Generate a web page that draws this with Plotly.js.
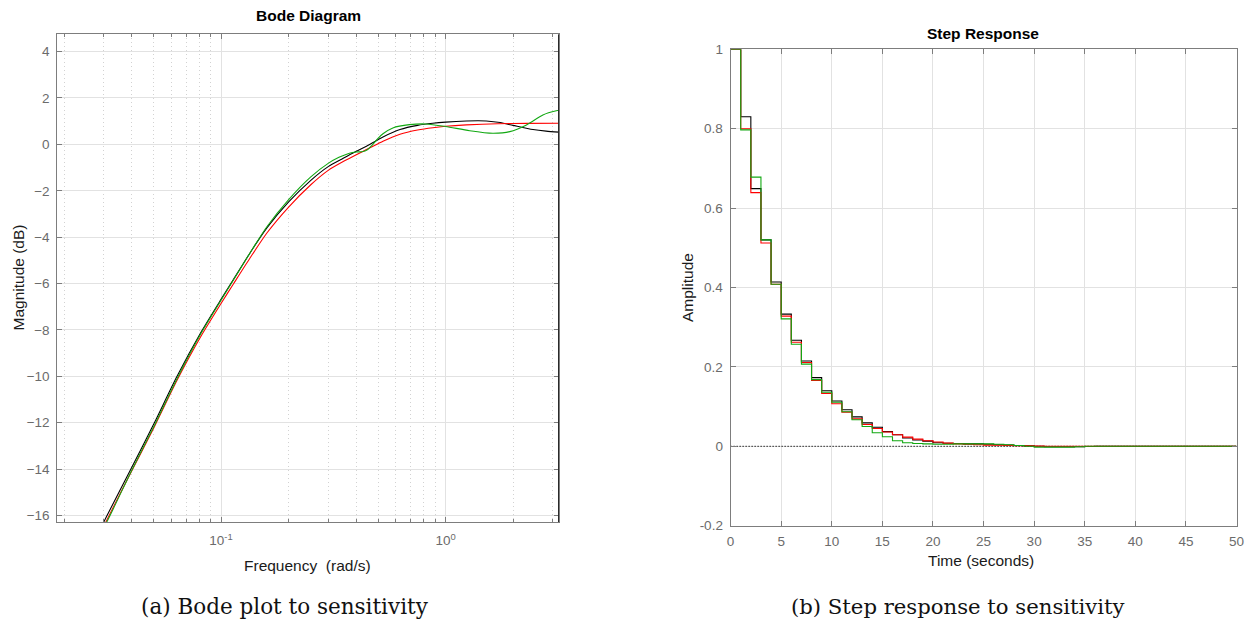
<!DOCTYPE html>
<html>
<head>
<meta charset="utf-8">
<script src="https://cdn.plot.ly/plotly-3.0.1.min.js"></script>
<style>
html,body{margin:0;padding:0;background:#fff;}
#chart{width:1249px;height:631px;}
</style>
</head>
<body>
<div id="chart"></div>
<script>
// ---------------- Bode magnitude data (frequency rad/s, magnitude dB) ----------------
const bodeBlackFreq = [0.0282,0.0310,0.0397,0.0505,0.0637,0.0820,0.100,0.1135,0.1346,0.160,0.200,0.251,0.300,0.350,0.400,0.444,0.500,0.526,0.626,0.750,0.877,1.00,1.236,1.40,1.517,1.75,1.995,2.449,2.80,3.20];
const bodeBlackMag  = [-16.83,-16.02,-14.00,-12.00,-10.00,-8.05,-6.68,-5.83,-4.68,-3.60,-2.48,-1.55,-0.96,-0.60,-0.30,-0.08,0.20,0.32,0.64,0.82,0.91,0.96,1.01,1.02,1.01,0.94,0.82,0.64,0.57,0.53];

const bodeRedFreq = [0.0282,0.0310,0.0397,0.0505,0.0637,0.0820,0.100,0.1135,0.1346,0.160,0.200,0.251,0.300,0.350,0.400,0.444,0.500,0.526,0.626,0.750,0.877,1.00,1.236,1.70,2.30,3.20];
const bodeRedMag  = [-17.00,-16.20,-14.15,-12.17,-10.17,-8.22,-6.86,-6.02,-4.90,-3.82,-2.70,-1.74,-1.12,-0.74,-0.45,-0.22,0.03,0.14,0.44,0.62,0.72,0.78,0.84,0.89,0.905,0.91];

const bodeGreenFreq = [0.0282,0.0310,0.0397,0.0505,0.0637,0.0820,0.100,0.1135,0.1346,0.160,0.200,0.251,0.300,0.335,0.373,0.400,0.430,0.450,0.470,0.500,0.526,0.582,0.690,0.820,1.00,1.28,1.62,1.93,2.29,2.71,3.11,3.20];
const bodeGreenMag  = [-16.95,-16.28,-14.12,-12.12,-10.10,-8.10,-6.72,-5.85,-4.68,-3.55,-2.38,-1.40,-0.82,-0.56,-0.38,-0.33,-0.31,-0.22,-0.04,0.26,0.46,0.71,0.85,0.88,0.77,0.59,0.48,0.55,0.84,1.27,1.45,1.47];

// ---------------- Step response data (sample time 1 s) ----------------
const stepTime = [0,1,2,3,4,5,6,7,8,9,10,11,12,13,14,15,16,17,18,19,20,21,22,23,24,25,26,27,28,29,30,31,32,33,34,35,36,37,38,39,40,41,42,43,44,45,46,47,48,49,50];
const stepBlack = [1,0.830,0.649,0.520,0.414,0.333,0.267,0.215,0.173,0.140,0.114,0.092,0.074,0.059,0.048,0.037,0.029,0.021,0.016,0.013,0.009,0.0075,0.007,0.006,0.006,0.005,0.004,0.003,0.002,0.001,0,-0.001,-0.001,-0.001,-0.001,-0.0005,0,0,0,0,0,0,0,0,0,0,0,0,0,0,0];
const stepRed   = [1,0.800,0.639,0.512,0.408,0.328,0.262,0.211,0.166,0.133,0.107,0.086,0.069,0.055,0.045,0.036,0.029,0.023,0.018,0.014,0.011,0.008,0.006,0.005,0.004,0.003,0.0025,0.002,0.0015,0.001,0.0005,0,0,0,0,0,0,0,0,0,0,0,0,0,0,0,0,0,0,0,0];
const stepGreen = [1,0.797,0.678,0.520,0.408,0.321,0.257,0.207,0.168,0.136,0.111,0.087,0.067,0.050,0.034,0.024,0.014,0.009,0.007,0.006,0.005,0.005,0.006,0.006,0.006,0.006,0.005,0.004,0.002,0,-0.002,-0.002,-0.002,-0.002,-0.001,0,0,0,0,0,0,0,0,0,0,0,0,0,0,0,0];
const zeroLineX = [0,50];
const zeroLineY = [0,0];

// ---------------- tick labels ----------------
const bodeXTickVals = [0.1, 1];
const bodeXTickText = ['10<sup>-1</sup>','10<sup>0</sup>'];
const bodeYTickVals = [-16,-14,-12,-10,-8,-6,-4,-2,0,2,4];
const stepXTickVals = [0,5,10,15,20,25,30,35,40,45,50];
const stepYTickVals = [-0.2,0,0.2,0.4,0.6,0.8,1];
const stepYTickText = ['-0.2','0','0.2','0.4','0.6','0.8','1'];

const W = 1249, H = 631;
const px = x => x / W;
const py = y => 1 - y / H;

const cBlack = '#000000', cRed = '#ff0000', cGreen = 'rgb(18,168,18)';
const tickFont = {family:'Liberation Sans, Arial, sans-serif', size:13.5, color:'#6b6b6b'};
const labelFont = {family:'Liberation Sans, Arial, sans-serif', size:15.5, color:'#1a1a1a'};
const axisCol = '#7d7d7d';
const gridCol = '#e2e2e2';

const traces = [
  {x:bodeBlackFreq, y:bodeBlackMag, xaxis:'x', yaxis:'y', mode:'lines', line:{color:cBlack,width:1.1,shape:'spline',smoothing:0.7}, hoverinfo:'skip'},
  {x:bodeRedFreq, y:bodeRedMag, xaxis:'x', yaxis:'y', mode:'lines', line:{color:cRed,width:1.1,shape:'spline',smoothing:0.7}, hoverinfo:'skip'},
  {x:bodeGreenFreq, y:bodeGreenMag, xaxis:'x', yaxis:'y', mode:'lines', line:{color:cGreen,width:1.1,shape:'spline',smoothing:0.7}, hoverinfo:'skip'},
  {x:zeroLineX, y:zeroLineY, xaxis:'x2', yaxis:'y2', mode:'lines', line:{color:'#000',width:1.3,dash:'1px,2px'}, hoverinfo:'skip'},
  {x:stepTime, y:stepBlack, xaxis:'x2', yaxis:'y2', mode:'lines', line:{color:cBlack,width:1.1,shape:'hv'}, hoverinfo:'skip'},
  {x:stepTime, y:stepRed, xaxis:'x2', yaxis:'y2', mode:'lines', line:{color:cRed,width:1.1,shape:'hv'}, hoverinfo:'skip'},
  {x:stepTime, y:stepGreen, xaxis:'x2', yaxis:'y2', mode:'lines', line:{color:cGreen,width:1.1,shape:'hv'}, hoverinfo:'skip'}
];

const commonAxis = {
  showline:true, linecolor:axisCol, linewidth:1, mirror:'ticks',
  ticks:'inside', ticklen:5, tickcolor:axisCol, tickwidth:1,
  showgrid:true, gridcolor:gridCol, gridwidth:1, zeroline:false,
  tickfont:tickFont, fixedrange:true
};

const layout = {
  width:W, height:H, margin:{l:0,r:0,t:0,b:0},
  paper_bgcolor:'#fff', plot_bgcolor:'#fff', showlegend:false,
  xaxis: Object.assign({}, commonAxis, {
    type:'log', domain:[px(57.3), px(558.5)], range:[-1.729, 0.5025],
    tickmode:'array', tickvals:bodeXTickVals, ticktext:bodeXTickText, anchor:'y',
    ticklabelstandoff:6,
    minor:{ticks:'inside', ticklen:3, tickcolor:axisCol, showgrid:true, gridcolor:'#d2d2d2', griddash:'1px,3px', gridwidth:1, dtick:'D1'}
  }),
  yaxis: Object.assign({}, commonAxis, {
    domain:[py(522), py(34.3)], range:[-16.28, 4.746],
    tickmode:'array', tickvals:bodeYTickVals, anchor:'x', ticklabelstandoff:4
  }),
  xaxis2: Object.assign({}, commonAxis, {
    domain:[px(730.6), px(1236.5)], range:[0,50],
    tickmode:'array', tickvals:stepXTickVals, anchor:'y2', ticklabelstandoff:3
  }),
  yaxis2: Object.assign({}, commonAxis, {
    domain:[py(525.7), py(49.3)], range:[-0.2,1],
    tickmode:'array', tickvals:stepYTickVals, ticktext:stepYTickText, anchor:'x2', ticklabelstandoff:4
  }),
  shapes:[
    {type:'line', xref:'x domain', yref:'y domain', x0:1, x1:1, y0:0, y1:1, line:{color:'#2a2a2a', width:1}}
  ],
  annotations:[
    {text:'<b>Bode Diagram</b>', x:px(308), y:py(16), xref:'paper', yref:'paper', showarrow:false, xanchor:'center', yanchor:'middle', font:{family:'Liberation Sans, Arial, sans-serif', size:15.5, color:'#000'}},
    {text:'<b>Step Response</b>', x:px(983.5), y:py(33.3), xref:'paper', yref:'paper', showarrow:false, xanchor:'center', yanchor:'middle', font:{family:'Liberation Sans, Arial, sans-serif', size:15.5, color:'#000'}},
    {text:'Frequency  (rad/s)', x:px(307), y:py(565.7), xref:'paper', yref:'paper', showarrow:false, xanchor:'center', yanchor:'middle', font:labelFont},
    {text:'Time (seconds)', x:px(981), y:py(560.7), xref:'paper', yref:'paper', showarrow:false, xanchor:'center', yanchor:'middle', font:labelFont},
    {text:'Magnitude (dB)', x:px(17.5), y:py(278), xref:'paper', yref:'paper', showarrow:false, xanchor:'center', yanchor:'middle', textangle:-90, font:labelFont},
    {text:'Amplitude', x:px(687), y:py(288), xref:'paper', yref:'paper', showarrow:false, xanchor:'center', yanchor:'middle', textangle:-90, font:labelFont},
    {text:'(a) Bode plot to sensitivity', x:px(285), y:py(606), xref:'paper', yref:'paper', showarrow:false, xanchor:'center', yanchor:'middle', font:{family:'DejaVu Serif, serif', size:21.5, color:'#111'}},
    {text:'(b) Step response to sensitivity', x:px(957.5), y:py(606), xref:'paper', yref:'paper', showarrow:false, xanchor:'center', yanchor:'middle', font:{family:'DejaVu Serif, serif', size:21.2, color:'#111'}}
  ]
};

Plotly.newPlot('chart', traces, layout, {staticPlot:true, displayModeBar:false});
</script>
</body>
</html>
